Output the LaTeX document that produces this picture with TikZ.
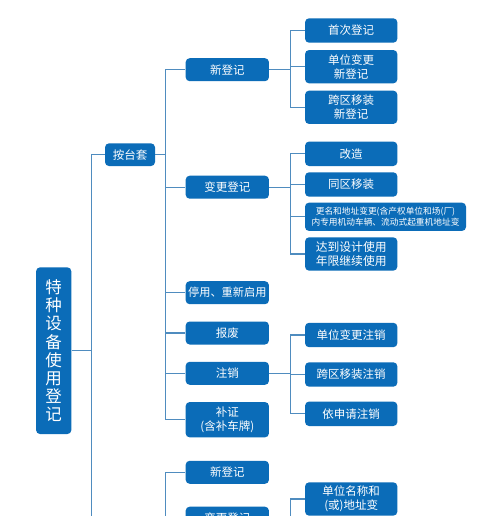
\documentclass[tikz,border=0pt]{standalone}
\usepackage{fontspec}
\newfontfamily\cjk{Noto Sans CJK SC}
\definecolor{boxblue}{HTML}{0B6CB8}
\definecolor{linkblue}{HTML}{4F8CBF}
\tikzset{
  bx/.style={draw=none, fill=boxblue, rounded corners=4pt, text=white, font=\cjk\fontsize{11.5}{14}\selectfont, align=center, inner sep=0pt, anchor=center},
  lone/.style={bx, minimum width=50pt, minimum height=22.7pt},
  ltwo/.style={bx, minimum width=83.3pt, minimum height=23pt},
  lthree/.style={bx, minimum width=92.3pt, minimum height=24.4pt},
  link/.style={draw=linkblue, line width=1.3pt}
}
\begin{document}
\begin{tikzpicture}[x=1pt,y=-1pt]
\useasboundingbox (0,0) rectangle (500,516);
\clip (0,0) rectangle (500,516);
\fill[white] (0,0) rectangle (500,516);
% root
\node[bx, minimum width=35.3pt, minimum height=166.7pt, font=\cjk\fontsize{16.5}{18.2}\selectfont] (root) at (53.7,350.7) {特\\种\\设\\备\\使\\用\\登\\记};
% level 1
\node[lone] (ant) at (130,154.7) {按台套};
% level 2, group 1
\node[ltwo] (xdj) at (227.3,69.7) {新登记};
\node[ltwo] (bgdj) at (227.3,187.2) {变更登记};
\node[ltwo, font=\cjk\fontsize{11.2}{14}\selectfont] (tyqy) at (227.3,292.7) {停用、重新启用};
\node[ltwo] (bf) at (227.3,333) {报废};
\node[ltwo] (zx) at (227.3,373.3) {注销};
\node[ltwo, minimum height=35.3pt] (bz) at (227.3,419.7) {补证\\(含补车牌)};
% level 2, group 2
\node[ltwo] (xdj2) at (227.3,472.3) {新登记};
\node[ltwo] (bgdj2) at (227.3,518.2) {变更登记};
% level 3 under 新登记
\node[lthree] (scdj) at (351.2,30.5) {首次登记};
\node[lthree, minimum height=33.3pt] (dwbg) at (351.2,66.7) {单位变更\\新登记};
\node[lthree, minimum height=33.3pt] (kqyz) at (351.2,107.3) {跨区移装\\新登记};
% level 3 under 变更登记
\node[lthree] (gz) at (351.2,153.8) {改造};
\node[lthree] (tqyz) at (351.2,184.5) {同区移装};
\node[bx, minimum width=161pt, minimum height=28.3pt, font=\cjk\fontsize{8.7}{11}\selectfont] (gmdz) at (385.5,216.8) {更名和地址变更(含产权单位和场(厂)\\内专用机动车辆、流动式起重机地址变};
\node[lthree, minimum height=33.3pt, font=\cjk\fontsize{11.8}{13.3}\selectfont] (ddsj) at (351.2,254) {达到设计使用\\年限继续使用};
% level 3 under 注销
\node[lthree] (dwzx) at (351.2,335) {单位变更注销};
\node[lthree] (kqzx) at (351.2,374.5) {跨区移装注销};
\node[lthree] (ysqzx) at (351.2,413.8) {依申请注销};
% level 3 under 变更登记 (group 2)
\node[lthree, minimum height=33.3pt] (dwmc) at (351.2,499) {单位名称和\\(或)地址变};
% free ends below the visible area
\coordinate (c1) at (91.7,560);
\coordinate (c2) at (165.7,560);
% connectors
\draw[link] (root.east) -- (91.7,350.7);
\draw[link] (c1) |- (ant.west);
\draw[link] (ant.east) -- (165.7,154.7);
\draw[link] (165.7,154.7) |- (xdj.west);
\draw[link] (165.7,154.7) |- (bgdj.west);
\draw[link] (165.7,154.7) |- (tyqy.west);
\draw[link] (165.7,154.7) |- (bf.west);
\draw[link] (165.7,154.7) |- (zx.west);
\draw[link] (165.7,154.7) |- (bz.west);
\draw[link] (c2) |- (xdj2.west);
\draw[link] (c2) |- (bgdj2.west);
\draw[link] (xdj.east) -- (290.7,69.7);
\draw[link] (290.7,69.7) |- (scdj.west);
\draw[link] (290.7,69.7) |- (dwbg.west);
\draw[link] (290.7,69.7) |- (kqyz.west);
\draw[link] (bgdj.east) -- (290.7,187.2);
\draw[link] (290.7,187.2) |- (gz.west);
\draw[link] (290.7,187.2) |- (tqyz.west);
\draw[link] (290.7,187.2) |- (gmdz.west);
\draw[link] (290.7,187.2) |- (ddsj.west);
\draw[link] (zx.east) -- (290.7,373.3);
\draw[link] (290.7,373.3) |- (dwzx.west);
\draw[link] (290.7,373.3) |- (kqzx.west);
\draw[link] (290.7,373.3) |- (ysqzx.west);
\draw[link] (bgdj2.east) -- (290.7,518.2);
\draw[link] (290.7,518.2) |- (dwmc.west);
\end{tikzpicture}
\end{document}
